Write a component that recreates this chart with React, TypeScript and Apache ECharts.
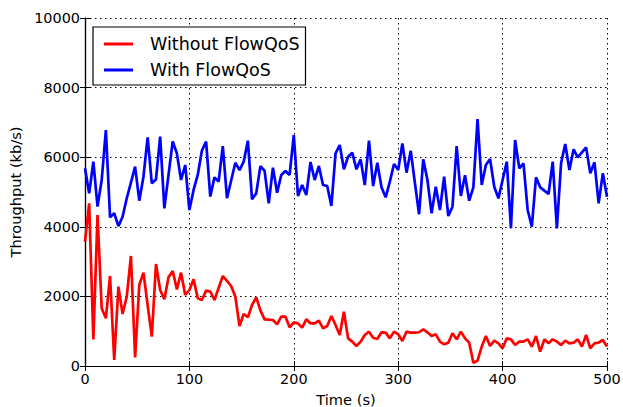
import React, { useEffect, useRef } from "react";
import * as echarts from "echarts";

const SAMPLE_STEP_S = 4;

const withoutFlowQoS = [
  3573, 4674, 766, 4339, 1657, 1370, 2586, 172, 2280, 1494,
  1992, 3161, 249, 2328, 2682, 1750, 843, 2931, 2184, 1916,
  2548, 2730, 2203, 2682, 2040, 2184, 2490, 1945, 1897, 2165,
  2136, 1897, 2241, 2586, 2443, 2299, 1992, 1149, 1494, 1399,
  1753, 1973, 1600, 1341, 1331, 1322, 1197, 1418, 1418, 1111,
  1255, 1226, 1102, 1341, 1226, 1226, 1303, 1082, 1149, 1437,
  1178, 891, 1561, 795, 699, 575, 699, 891, 987, 814,
  776, 968, 958, 795, 987, 910, 718, 987, 958, 958,
  970, 1054, 967, 862, 910, 699, 623, 670, 939, 766,
  987, 795, 670, 96, 153, 556, 862, 575, 728, 651,
  508, 795, 766, 603, 699, 699, 766, 556, 862, 412,
  766, 651, 766, 699, 603, 728, 651, 670, 766, 556,
  890, 508, 651, 670, 747, 556,
];

const withFlowQoS = [
  5680, 4960, 5870, 4580, 5345, 6780, 4270, 4390, 4020, 4290,
  4820, 5270, 5730, 4750, 5440, 6570, 5250, 5360, 6590, 4530,
  5490, 6450, 6110, 5345, 5776, 4480, 5060, 5490, 6190, 6450,
  4870, 5420, 5300, 6320, 4820, 5330, 5840, 5630, 5870, 6475,
  4790, 4960, 5740, 5612, 4674, 5700, 4981, 5489, 5603, 5489,
  6638, 4885, 5201, 4914, 5862, 5345, 5747, 5201, 5172, 4598,
  6111, 6351, 5652, 6015, 6130, 5652, 5937, 5201, 6475, 5172,
  5843, 5134, 4847, 5297, 5805, 5632, 6398, 5556, 6187, 5260,
  4360, 5937, 5345, 4387, 5153, 4483, 5440, 4310, 4578, 6322,
  4885, 5480, 4751, 5134, 7098, 5201, 5776, 5948, 5153, 4818,
  5345, 5871, 3957, 6494, 5680, 5824, 4483, 4004, 5422, 5134,
  5038, 4943, 5871, 3957, 5824, 6379, 5632, 6226, 5996, 6140,
  6283, 5536, 5852, 4674, 5536, 4866,
];

const seriesNames = ["Without FlowQoS", "With FlowQoS"];
const xTicks = [0, 100, 200, 300, 400, 500];
const yTicks = [0, 2000, 4000, 6000, 8000, 10000];

const FONT = "DejaVu Sans";

export default function App() {
  const ref = useRef<HTMLDivElement>(null);
  useEffect(() => {
    if (!ref.current) return;
    const chart = echarts.init(ref.current, undefined, { renderer: "svg" });
    const toPairs = (arr: number[]) => arr.map((v, i) => [i * SAMPLE_STEP_S, v]);
    const xMin = xTicks[0];
    const xMax = xTicks[xTicks.length - 1];
    const xInt = xTicks[1] - xTicks[0];
    const yMin = yTicks[0];
    const yMax = yTicks[yTicks.length - 1];
    const yInt = yTicks[1] - yTicks[0];
    const tickStyle = { show: true, inside: true, length: 5, lineStyle: { color: "#000", width: 1 } };
    const axisLine = { show: true, lineStyle: { color: "#000", width: 1.2 } };
    const plain = (v: number) => String(v);
    chart.setOption({
      animation: false,
      backgroundColor: "#fff",
      grid: { left: 85, right: 16, top: 18, bottom: 41, containLabel: false, outerBoundsMode: "none" },
      legend: {
        orient: "vertical",
        left: 93,
        top: 27,
        data: seriesNames,
        icon: "rect",
        itemWidth: 29,
        itemHeight: 3,
        itemGap: 6,
        padding: [7, 6, 5, 11],
        borderColor: "#000",
        borderWidth: 1.2,
        borderRadius: 0,
        backgroundColor: "#fff",
        textStyle: { fontFamily: FONT, fontSize: 17.5, color: "#000", lineHeight: 20, padding: [0, 0, 0, 12] },
      },
      xAxis: [
        {
          type: "value",
          min: xMin,
          max: xMax,
          interval: xInt,
          name: "Time (s)",
          nameLocation: "middle",
          nameGap: 26,
          nameTextStyle: { fontFamily: FONT, fontSize: 14.6, color: "#000" },
          axisLine,
          axisTick: tickStyle,
          axisLabel: { fontFamily: FONT, fontSize: 14.4, color: "#000", margin: 6, formatter: plain },
          splitLine: { show: true, lineStyle: { color: "#000", type: [1.5, 3.5], width: 1 } },
        },
        {
          type: "value",
          position: "top",
          min: xMin,
          max: xMax,
          interval: xInt,
          axisLine,
          axisTick: tickStyle,
          axisLabel: { show: false },
          splitLine: { show: false },
        },
      ],
      yAxis: [
        {
          type: "value",
          min: yMin,
          max: yMax,
          interval: yInt,
          name: "Throughput (kb/s)",
          nameLocation: "middle",
          nameGap: 54,
          nameTextStyle: { fontFamily: FONT, fontSize: 14.6, color: "#000" },
          axisLine,
          axisTick: tickStyle,
          axisLabel: { fontFamily: FONT, fontSize: 14.4, color: "#000", margin: 5, formatter: plain },
          splitLine: { show: true, lineStyle: { color: "#000", type: [1.5, 3.5], width: 1 } },
        },
        {
          type: "value",
          position: "right",
          min: yMin,
          max: yMax,
          interval: yInt,
          axisLine,
          axisTick: tickStyle,
          axisLabel: { show: false },
          splitLine: { show: false },
        },
      ],
      series: [
        {
          name: seriesNames[0],
          type: "line",
          data: toPairs(withoutFlowQoS),
          showSymbol: false,
          symbol: "none",
          color: "#ff0000",
          lineStyle: { color: "#ff0000", width: 2.7 },
          clip: true,
          z: 3,
        },
        {
          name: seriesNames[1],
          type: "line",
          data: toPairs(withFlowQoS),
          showSymbol: false,
          symbol: "none",
          color: "#0000ff",
          lineStyle: { color: "#0000ff", width: 2.7 },
          clip: true,
          z: 3,
        },
      ],
    });
    return () => chart.dispose();
  }, []);
  return <div ref={ref} style={{ width: 623, height: 407, position: "absolute", left: 0, top: 0 }} />;
}
